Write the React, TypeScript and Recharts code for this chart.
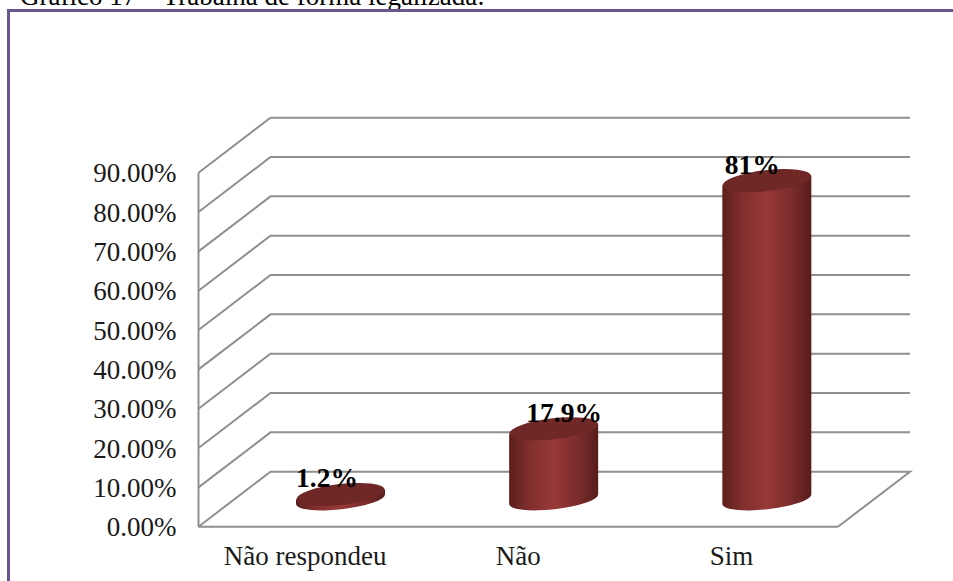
import React from "react";
import { BarChart, Bar, XAxis, YAxis, ReferenceLine, LabelList } from "recharts";

const categories = ["Não respondeu", "Não", "Sim"];
const seriesValues = [1.2, 17.9, 81];
const yTicks = [0, 10, 20, 30, 40, 50, 60, 70, 80, 90];
const titleText = "Gráfico 17 – Trabalha de forma legalizada:";

const rows = categories.map((name, i) => ({ name, value: seriesValues[i] }));

const GRID = "#8f8f8f";
const DEPTH_X = 72;
const DEPTH_Y = 55;
const FONT = '"Liberation Serif", serif';

function WallLine(props: any) {
  const { x1, y1, x2 } = props;
  const bx = x1 + DEPTH_X;
  const by = y1 - DEPTH_Y;
  const endX = x2 + DEPTH_X;
  return (
    <path
      d={`M${x1},${y1} L${bx},${by} L${endX},${by}`}
      fill="none"
      stroke={GRID}
      strokeWidth={2}
    />
  );
}

function FloorEdge(props: any) {
  const { x1, y1, x2 } = props;
  const bx = x1 + DEPTH_X;
  const by = y1 - DEPTH_Y;
  const endX = x2 + DEPTH_X;
  return (
    <path
      d={`M${x1},${y1} L${bx},${by} L${endX},${by} L${x2},${y1}`}
      fill="none"
      stroke={GRID}
      strokeWidth={2}
    />
  );
}

function Cylinder(props: any) {
  const { x, y, width, height } = props;
  const dx = DEPTH_X / 2 - 0.5;
  const dy = DEPTH_Y / 2;
  const left = x + dx;
  const right = left + width;
  const cx = (left + right) / 2;
  const top = y - dy;
  const bottom = y + height - dy;
  const rx = width / 2;
  const ry = 10;
  const tilt = 5;
  return (
    <g>
      <path
        d={`M${left},${top + tilt} L${left},${bottom + tilt} A${rx},${ry} -6.5 0 0 ${right},${bottom - tilt} L${right},${top - tilt} Z`}
        fill="url(#cyl)"
      />
      <ellipse
        cx={cx}
        cy={top}
        rx={rx}
        ry={ry + 0.5}
        fill="#6f2826"
        transform={`rotate(-6.5 ${cx} ${top})`}
      />
    </g>
  );
}

const labelNudge = [-13, 11, -14];

function ValueLabel(props: any) {
  const { x, y, width, index, value } = props;
  const cx = x + width / 2 + DEPTH_X / 2 - 1 + labelNudge[index];
  return (
    <text
      x={cx}
      y={y - DEPTH_Y / 2 - 7}
      textAnchor="middle"
      fontFamily={FONT}
      fontSize={27.5}
      fontWeight="bold"
      fill="#000"
    >
      {`${value}%`}
    </text>
  );
}

export default function App() {
  return (
    <div style={{ position: "absolute", left: 0, top: 0, width: 953, height: 581, overflow: "hidden", background: "#fff" }}>
      <div
        style={{
          position: "absolute",
          left: 20,
          top: -18,
          fontFamily: FONT,
          fontSize: 27,
          lineHeight: "28px",
          color: "#000",
          whiteSpace: "nowrap",
        }}
      >
        {titleText}
      </div>
      <div
        style={{
          position: "absolute",
          left: 7,
          top: 9,
          width: 960,
          height: 600,
          border: "3px solid #6a5590",
          boxSizing: "border-box",
        }}
      />
      <div style={{ position: "absolute", left: 0, top: 0 }}>
        <BarChart
          width={953}
          height={581}
          data={rows}
          margin={{ top: 172.7, left: 98.5, right: 115, bottom: 0 }}
          style={{ overflow: "visible" }}
        >
          <defs>
            <linearGradient id="cyl" x1="0" y1="0" x2="1" y2="0">
              <stop offset="0" stopColor="#5c1f1d" />
              <stop offset="0.22" stopColor="#7f2f2d" />
              <stop offset="0.5" stopColor="#983837" />
              <stop offset="0.8" stopColor="#772b2a" />
              <stop offset="1" stopColor="#571d1c" />
            </linearGradient>
          </defs>
          <XAxis
            dataKey="name"
            height={54.3}
            interval={0}
            axisLine={{ stroke: GRID, strokeWidth: 2 }}
            tickLine={false}
            tickMargin={13}
            tick={{ fontFamily: FONT, fontSize: 27, fill: "#1a1a1a" }}
          />
          <YAxis
            width={100}
            domain={[0, 90]}
            ticks={yTicks}
            interval={0}
            axisLine={{ stroke: GRID, strokeWidth: 2 }}
            tickLine={false}
            tickMargin={16}
            tickFormatter={(v: number) => `${v.toFixed(2)}%`}
            tick={{ fontFamily: FONT, fontSize: 27, fill: "#1a1a1a" }}
          />
          {yTicks.map((t) => (
            <ReferenceLine
              key={t}
              y={t}
              zIndex={0}
              shape={t === 0 ? FloorEdge : WallLine}
            />
          ))}
          <Bar dataKey="value" barSize={89} shape={Cylinder} isAnimationActive={false}>
            <LabelList dataKey="value" content={ValueLabel} />
          </Bar>
        </BarChart>
      </div>
    </div>
  );
}
